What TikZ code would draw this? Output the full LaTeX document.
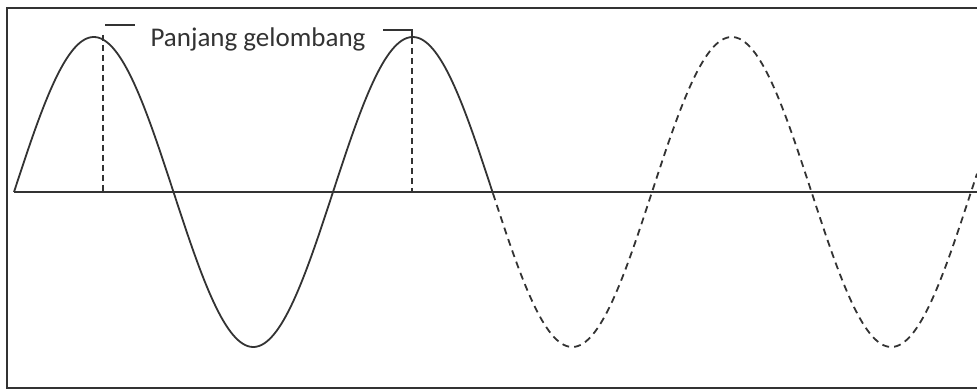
\documentclass[tikz,border=0pt]{standalone}
\usepackage{fontspec}
\setmainfont{Carlito}
\begin{document}
\begin{tikzpicture}[x=1pt,y=-1pt,line width=1.9pt,draw=black!80]
\tikzset{wave/.style={black!80,line width=1.8pt},
         marker/.style={black!80,line width=1.5pt,dash pattern=on 6pt off 4pt},
         label/.style={font=\fontsize{27}{31}\selectfont,text=black!80}}
\useasboundingbox (0,0) rectangle (977,390);
\coordinate (tl) at (7,8);
\coordinate (tr) at (977,8);
\coordinate (bl) at (7,388);
\coordinate (br) at (977,388);
\coordinate (a0) at (14,192);
\coordinate (a1) at (977,192);
\coordinate (p1) at (103,35);
\coordinate (p2) at (412,38);
\coordinate (f1) at (103,192);
\coordinate (f2) at (412,192);
\draw (tr) -- (tl) -- (bl) -- (br);
\draw (a0) -- (a1);
\draw[wave] plot[domain=14:493,samples=200] (\x,{192-155*sin((\x-14)/159.5*180)});
\draw[wave,dash pattern=on 7pt off 5pt] plot[domain=493:977,samples=200] (\x,{192-155*sin((\x-14)/159.5*180)});
\draw[marker] (p1) -- (f1);
\draw[marker] (p2) -- (f2);
\node[label] (lambda) at (258,39) {Panjang gelombang};
\draw[line width=1.5pt] (105,25) -- (135,25);
\draw[line width=1.5pt] (383,30) -- (412,30) -- (412,38);
\end{tikzpicture}
\end{document}
